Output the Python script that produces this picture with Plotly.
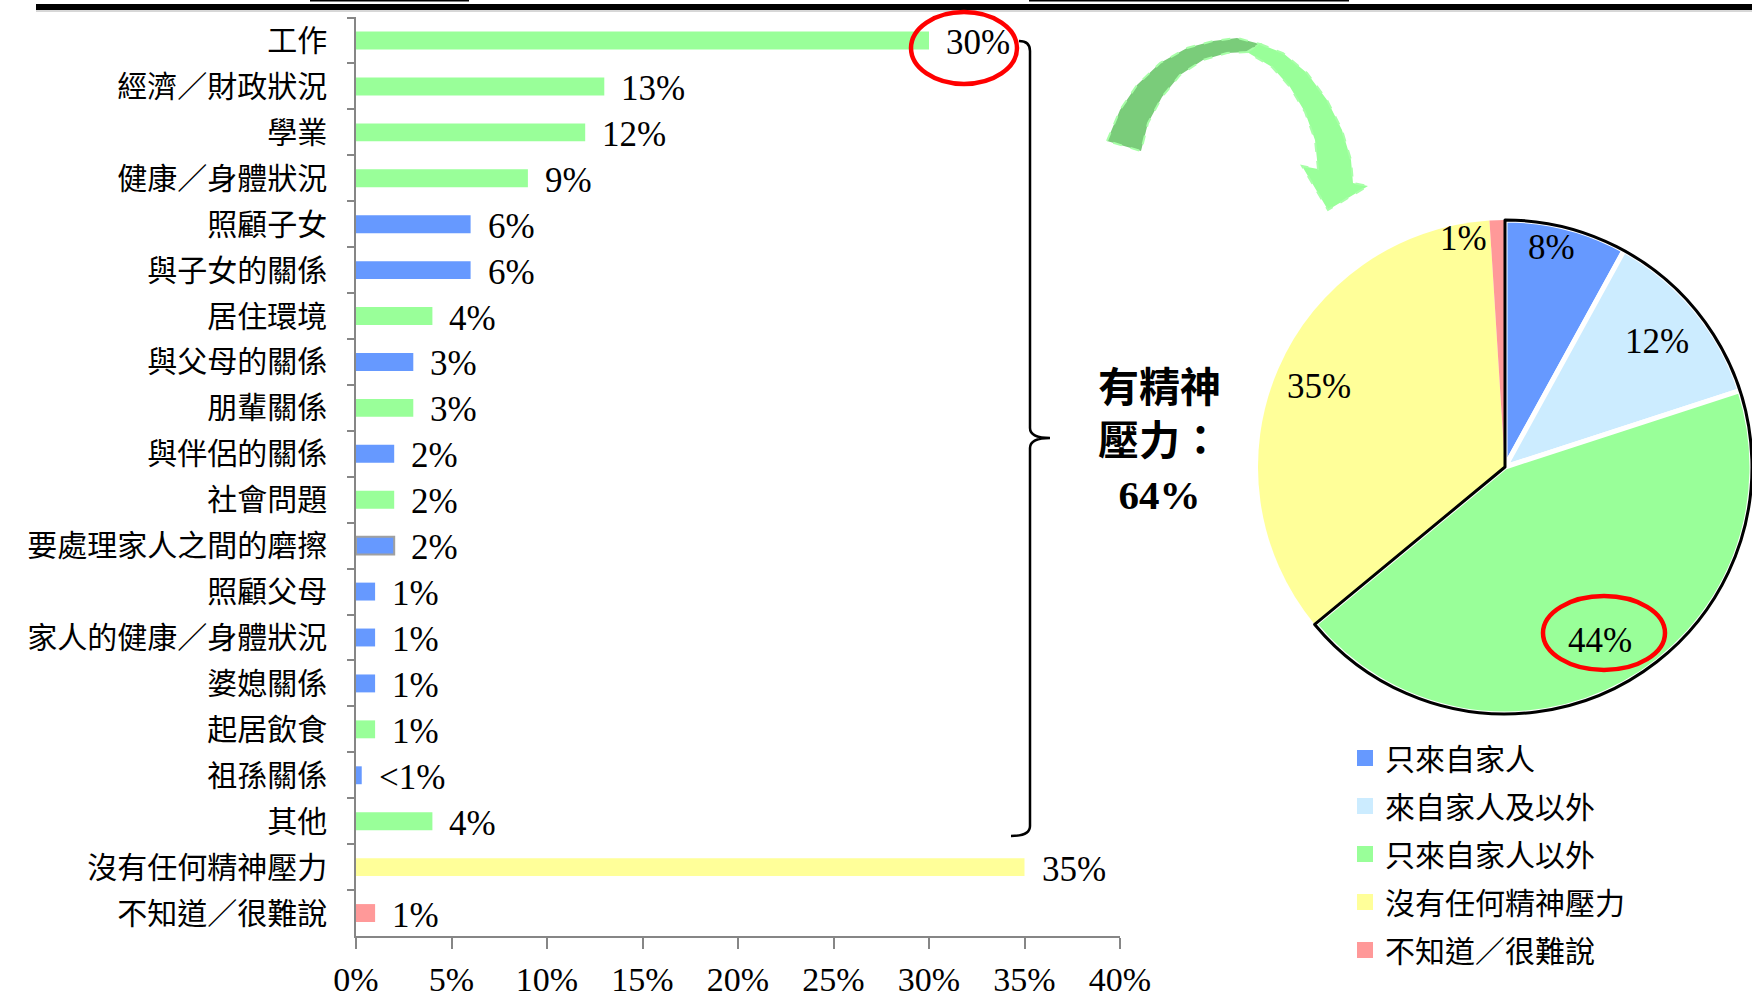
import math
import plotly.graph_objects as go

W, H = 1752, 997

# ---- sources of stress (percent of respondents) ----
categories = [
    "工作", "經濟／財政狀況", "學業", "健康／身體狀況", "照顧子女", "與子女的關係",
    "居住環境", "與父母的關係", "朋輩關係", "與伴侶的關係", "社會問題",
    "要處理家人之間的磨擦", "照顧父母", "家人的健康／身體狀況", "婆媳關係",
    "起居飲食", "祖孫關係", "其他", "沒有任何精神壓力", "不知道／很難說",
]
values = [30, 13, 12, 9, 6, 6, 4, 3, 3, 2, 2, 2, 1, 1, 1, 1, 0.3, 4, 35, 1]
source_type = [
    "outside", "outside", "outside", "outside", "family", "family",
    "outside", "family", "outside", "family", "outside",
    "family", "family", "family", "family",
    "outside", "family", "outside", "none", "unknown",
]
x_ticks = [0, 5, 10, 15, 20, 25, 30, 35, 40]

# ---- where the stress comes from ----
pie_labels = ["只來自家人", "來自家人及以外", "只來自家人以外", "沒有任何精神壓力", "不知道／很難說"]
pie_values = [8, 12, 44, 35, 1]

type_colors = {"family": "#6699FF", "outside": "#99FF99", "none": "#FFFF99", "unknown": "#FF9999"}
pie_colors = ["#6699FF", "#CCECFF", "#99FF99", "#FFFF99", "#FF9999"]

SERIF = "Liberation Serif, Noto Sans CJK TC"
CJK = "Noto Sans CJK TC"


def label_of(v):
    return f"{v:g}%" if v >= 1 else "<1%"


def px(x):
    return x / W


def py(y):
    return 1 - y / H


def path(cmds):
    """Build an SVG path in paper units from pixel-space commands."""
    out = []
    for c in cmds:
        op, pts = c[0], c[1:]
        coords = " ".join(f"{px(x):.5f},{py(y):.5f}" for x, y in pts)
        out.append(f"{op} {coords}" if pts else op)
    return " ".join(out)


fig = go.Figure()

bar_colors = [type_colors[t] for t in source_type]
line_colors = ["#A0A0A0" if c == "要處理家人之間的磨擦" else "rgba(0,0,0,0)" for c in categories]
line_widths = [2 if c == "要處理家人之間的磨擦" else 0 for c in categories]

fig.add_trace(go.Bar(
    x=values, y=categories, orientation="h", width=0.39,
    marker=dict(color=bar_colors, line=dict(color=line_colors, width=line_widths)),
    showlegend=False, hoverinfo="x+y",
))

# pie sits at the right side of the page
cx, cy, R = 1505, 467, 247
pie_domain = dict(x=[px(cx - R), 1.0], y=[py(cy + R), py(cy - R)])

stressed = sum(pie_values[:3])
fig.add_trace(go.Pie(
    labels=pie_labels, values=pie_values, sort=False, direction="clockwise", rotation=0,
    domain=pie_domain, textinfo="none",
    marker=dict(colors=pie_colors, line=dict(color="white", width=[5, 5, 5, 0, 0])),
    showlegend=False,
))
# black outline around the slices that report stress
fig.add_trace(go.Pie(
    labels=["有精神壓力", "沒有精神壓力／不知道"], values=[stressed, 100 - stressed],
    sort=False, direction="clockwise", rotation=0, domain=pie_domain, textinfo="none",
    marker=dict(colors=["rgba(0,0,0,0)", "rgba(0,0,0,0)"],
                line=dict(color=["black", "rgba(0,0,0,0)"], width=[3, 0])),
    showlegend=False, hoverinfo="skip",
))

# legend entries (square swatches) for the pie slices
for lab, col in zip(pie_labels, pie_colors):
    fig.add_trace(go.Scatter(
        x=[None], y=[None], mode="markers", name=lab, legendgroup=lab,
        marker=dict(symbol="square", size=16, color=col, line=dict(width=0)),
        showlegend=True, hoverinfo="skip",
    ))

annotations = []
# value labels next to each bar
for cat, v in zip(categories, values):
    annotations.append(dict(
        x=v, y=cat, xref="x", yref="y", text=label_of(v), showarrow=False,
        xanchor="left", xshift=15, yshift=-2,
        font=dict(family=SERIF, size=35, color="black"),
    ))

# slice percentages placed along each slice's bisector
label_radius = [0.97, 0.8, 0.8, 0.82, 0.97]
label_shift = [(-13, 9), (0, 0), (0, 0), (0, 0), (-8, 11)]
cum = 0
for i, v in enumerate(pie_values):
    theta = 2 * math.pi * (cum + v / 2) / 100
    cum += v
    r = label_radius[i] * R
    lx = cx + r * math.sin(theta)
    ly = cy - r * math.cos(theta)
    dx, dy = label_shift[i]
    annotations.append(dict(
        x=px(lx), y=py(ly), xref="paper", yref="paper", text=f"{v}%", showarrow=False,
        xanchor="right" if v < 2 else "center", xshift=dx, yshift=dy,
        font=dict(family=SERIF, size=35, color="black"),
    ))

annotations.append(dict(
    x=px(1159), y=py(441), xref="paper", yref="paper", showarrow=False,
    text=f"<b>有精神<br>壓力：<br>{stressed}%</b>", align="center",
    font=dict(family=SERIF, size=41, color="black"),
))

shapes = [
    # heading rule
    dict(type="line", xref="paper", yref="paper", x0=px(36), x1=1, y0=py(7), y1=py(7),
         line=dict(color="black", width=6)),
    dict(type="line", xref="paper", yref="paper", x0=px(36), x1=1, y0=py(11), y1=py(11),
         line=dict(color="#B0B0B0", width=1)),
    dict(type="line", xref="paper", yref="paper", x0=px(310), x1=px(469), y0=py(0.5), y1=py(0.5),
         line=dict(color="black", width=2)),
    dict(type="line", xref="paper", yref="paper", x0=px(1029), x1=px(1349), y0=py(0.5), y1=py(0.5),
         line=dict(color="black", width=2)),
    # brace grouping the stress sources
    dict(type="path", xref="paper", yref="paper",
         path=path([("M", (1019, 41)), ("Q", (1030, 41), (1030, 51)), ("L", (1030, 428)),
                    ("Q", (1030, 438), (1050, 438)), ("Q", (1030, 438), (1030, 448)),
                    ("L", (1030, 826)), ("Q", (1030, 836), (1011, 836))]),
         line=dict(color="black", width=2.5)),
    # highlight rings
    dict(type="circle", xref="paper", yref="paper", x0=px(911), x1=px(1017), y0=py(12), y1=py(84),
         line=dict(color="#FF0000", width=4.5)),
    dict(type="circle", xref="paper", yref="paper", x0=px(1543), x1=px(1665), y0=py(596), y1=py(670),
         line=dict(color="#FF0000", width=4.5)),
]

# curved arrow from the bars to the pie (back face darker)
arrow_back = [(1107, 141), (1120, 110), (1137, 85), (1160, 63), (1187, 48), (1213, 41),
              (1237, 38), (1260, 44), (1247, 52), (1227, 53), (1203, 60), (1180, 75),
              (1162, 97), (1148, 123), (1141, 151)]
arrow_front = [(1260, 44), (1283, 53), (1307, 73), (1327, 100), (1342, 130), (1351, 160),
               (1353, 183), (1368, 186), (1328, 210), (1302, 166), (1318, 169), (1315, 140),
               (1305, 112), (1290, 87), (1272, 67), (1247, 52)]
for pts, fill in [(arrow_back, "#7ACC7A"), (arrow_front, "#99FF99")]:
    cmds = [("M", pts[0])] + [("L", p) for p in pts[1:]] + [("Z",)]
    shapes.append(dict(type="path", xref="paper", yref="paper", path=path(cmds),
                       fillcolor=fill, line=dict(color="#A8FFA8", width=2, dash="dash"),
                       layer="above"))

fig.update_layout(
    width=W, height=H, margin=dict(l=0, r=0, t=0, b=0, autoexpand=False),
    paper_bgcolor="white", plot_bgcolor="white",
    xaxis=dict(
        domain=[px(356), px(1120)], range=[0, 40], tickvals=x_ticks,
        ticktext=[f"{t}%" for t in x_ticks], automargin=False,
        ticks="outside", ticklen=11, tickwidth=1.5, tickcolor="#868686",
        showline=True, linecolor="#868686", linewidth=1.5, showgrid=False, zeroline=False,
        tickfont=dict(family=SERIF, size=34, color="black"), ticklabelstandoff=1,
    ),
    yaxis=dict(
        domain=[py(936), py(17)], type="category", autorange="reversed", automargin=False,
        tickson="boundaries", ticks="outside", ticklen=7, tickwidth=1.5, tickcolor="#868686",
        showline=True, linecolor="#868686", linewidth=1.5, showgrid=False,
        tickfont=dict(family=CJK, size=30, color="black"), ticklabelstandoff=21,
    ),
    legend=dict(x=px(1345), y=py(732), xanchor="left", yanchor="top", tracegroupgap=6,
                font=dict(family=CJK, size=30, color="black"), bgcolor="rgba(0,0,0,0)"),
    showlegend=True,
    annotations=annotations,
    shapes=shapes,
)

fig.write_html("out.html")
